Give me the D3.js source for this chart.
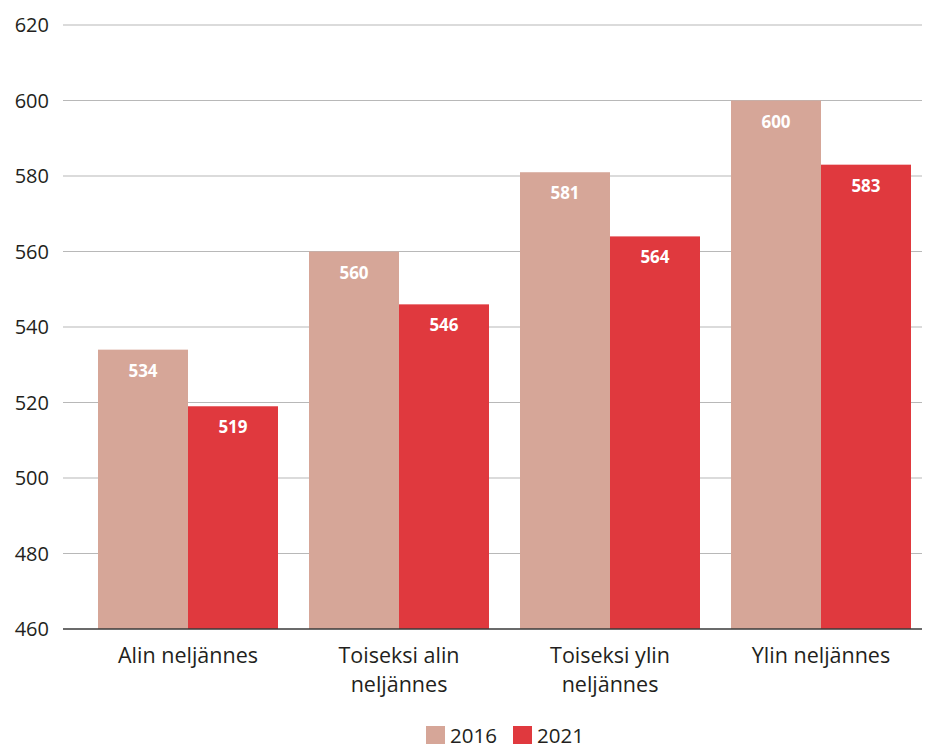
<!DOCTYPE html>
<html>
<head>
<meta charset="utf-8">
<script src="https://cdn.jsdelivr.net/npm/d3@7"></script>
<style>
  body { margin: 0; background: #fff; }
  text { font-family: "Open Sans", "Noto Sans", sans-serif; fill: #231f20; }
</style>
</head>
<body>
<div id="chart"></div>
<script>
(function () {

    const categories = ["Alin neljännes", "Toiseksi alin neljännes", "Toiseksi ylin neljännes", "Ylin neljännes"];
    const categoryLines = [["Alin neljännes"], ["Toiseksi alin", "neljännes"], ["Toiseksi ylin", "neljännes"], ["Ylin neljännes"]];
    const seriesNames = ["2016", "2021"];
    const values2016 = [534, 560, 581, 600];
    const values2021 = [519, 546, 564, 583];
    const yTicks = [460, 480, 500, 520, 540, 560, 580, 600, 620];
    const colours = ["#d6a698", "#e0393e"];

    const width = 933, height = 749;
    const seriesValues = [values2016, values2021];

    const svg = d3.select("#chart").append("svg")
        .attr("width", width)
        .attr("height", height);

    const yScale = d3.scaleLinear().domain([460, 620]).range([629, 25]);
    const xScale = d3.scaleBand().domain(categories)
        .range([82.5, 926.5])
        .paddingInner(0.147)
        .paddingOuter(0.0735);
    const sScale = d3.scaleBand().domain(seriesNames).range([0, xScale.bandwidth()]);

    // gridlines
    svg.append("g")
        .selectAll("line")
        .data(yTicks.slice(1))
        .enter()
        .append("line")
        .attr("x1", 63).attr("x2", 922)
        .attr("y1", d => yScale(d)).attr("y2", d => yScale(d))
        .attr("stroke", "#b8b8b8")
        .attr("stroke-width", 1.2);

    // y axis labels
    svg.append("g")
        .selectAll("text")
        .data(yTicks)
        .enter()
        .append("text")
        .attr("x", 49)
        .attr("y", d => yScale(d) + 7)
        .attr("text-anchor", "end")
        .attr("font-size", 20)
        .text(d => d);

    // bars
    const groups = svg.append("g")
        .selectAll("g")
        .data(categories)
        .enter()
        .append("g")
        .attr("transform", d => `translate(${xScale(d)},0)`);

    groups.each(function (cat, i) {
        const g = d3.select(this);
        seriesNames.forEach((s, j) => {
            const v = seriesValues[j][i];
            g.append("rect")
                .attr("x", sScale(s))
                .attr("y", yScale(v))
                .attr("width", sScale.bandwidth())
                .attr("height", yScale(460) - yScale(v))
                .attr("fill", colours[j]);
            g.append("text")
                .attr("x", sScale(s) + sScale.bandwidth() / 2)
                .attr("y", yScale(v) + 27)
                .attr("text-anchor", "middle")
                .attr("font-size", 17)
                .attr("font-weight", "bold")
                .style("fill", "#fff")
                .text(v);
        });
    });

    // baseline
    svg.append("line")
        .attr("x1", 63).attr("x2", 922)
        .attr("y1", yScale(460)).attr("y2", yScale(460))
        .attr("stroke", "#3a3a3a")
        .attr("stroke-width", 1.5);

    // category labels
    svg.append("g")
        .selectAll("text")
        .data(categories)
        .enter()
        .append("text")
        .attr("x", d => xScale(d) + xScale.bandwidth() / 2)
        .attr("y", 663)
        .attr("text-anchor", "middle")
        .attr("font-size", 21.5)
        .each(function (d, i) {
            d3.select(this).selectAll("tspan")
                .data(categoryLines[i])
                .enter()
                .append("tspan")
                .attr("x", xScale(d) + xScale.bandwidth() / 2)
                .attr("dy", (t, k) => k === 0 ? 0 : 29)
                .text(t => t);
        });

    // legend
    const legend = svg.append("g");
    const legendX = [426, 513];
    seriesNames.forEach((s, j) => {
        legend.append("rect")
            .attr("x", legendX[j]).attr("y", 726)
            .attr("width", 19).attr("height", 18)
            .attr("fill", colours[j]);
        legend.append("text")
            .attr("x", legendX[j] + 24).attr("y", 743)
            .attr("font-size", 20.5)
            .text(s);
    });

})()
</script>
</body>
</html>
